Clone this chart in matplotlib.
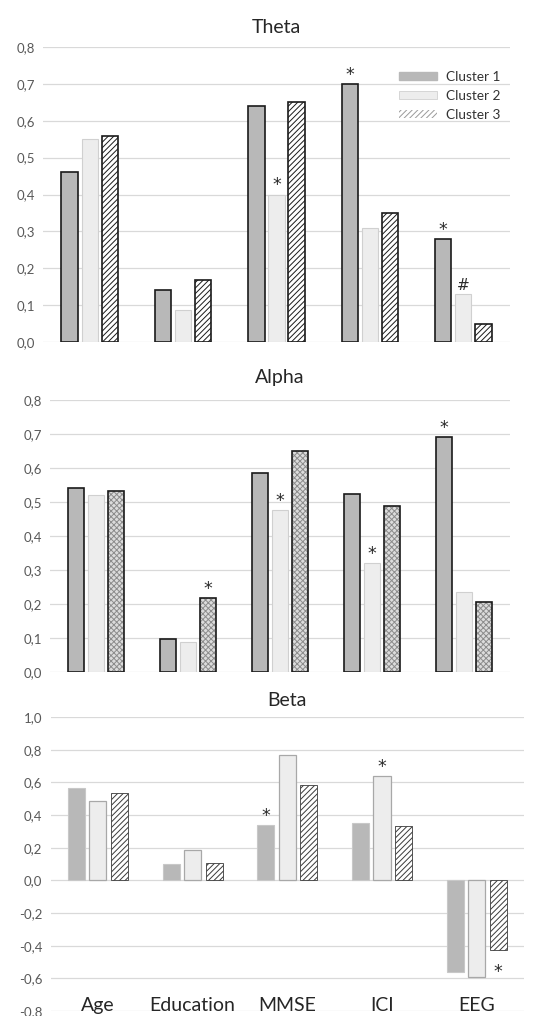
import matplotlib
matplotlib.use("Agg")
import matplotlib.pyplot as plt
from matplotlib.patches import Patch
from matplotlib.ticker import FuncFormatter, MultipleLocator

plt.rcParams['font.family'] = ['Lato', 'DejaVu Sans']
plt.rcParams['hatch.linewidth'] = 0.7

categories = ["Age", "Education", "MMSE", "ICI", "EEG"]
clusters = ["Cluster 1", "Cluster 2", "Cluster 3"]

theta_c1 = [0.46, 0.14, 0.64, 0.70, 0.28]
theta_c2 = [0.55, 0.086, 0.40, 0.31, 0.13]
theta_c3 = [0.56, 0.168, 0.65, 0.35, 0.05]

alpha_c1 = [0.54, 0.096, 0.585, 0.525, 0.69]
alpha_c2 = [0.522, 0.089, 0.476, 0.32, 0.234]
alpha_c3 = [0.532, 0.217, 0.649, 0.489, 0.205]

beta_c1 = [0.568, 0.098, 0.339, 0.354, -0.562]
beta_c2 = [0.485, 0.184, 0.767, 0.640, -0.589]
beta_c3 = [0.532, 0.104, 0.581, 0.333, -0.429]

# (category index, cluster index, symbol)
theta_marks = [(2, 1, "*"), (3, 0, "*"), (4, 0, "*"), (4, 1, "#")]
alpha_marks = [(1, 2, "*"), (2, 1, "*"), (3, 1, "*"), (4, 0, "*")]
beta_marks = [(2, 0, "*"), (3, 1, "*"), (4, 2, "*")]

W, H = 542, 1016
fig = plt.figure(figsize=(W / 100, H / 100), dpi=100)


def ax_px(left, top, right, bottom):
    return fig.add_axes([left / W, 1 - bottom / H, (right - left) / W, (bottom - top) / H])


fmt = FuncFormatter(lambda v, p: f"{v:.1f}".replace('.', ','))

C1_FILL = "#b8b8b8"
C2_FILL = "#ededed"
TICK_COLOR = "#595959"
GRID = "#d9d9d9"


def panel(ax, title, series, styles, ylim, step, marks, offset, width, tpad, outline=None):
    ax.set_xlim(-0.5, 4.5)
    ax.set_ylim(*ylim)
    ax.yaxis.set_major_locator(MultipleLocator(step))
    ax.yaxis.set_major_formatter(fmt)
    ax.grid(axis='y', color=GRID, linewidth=0.9)
    ax.set_axisbelow(True)
    for s in ax.spines.values():
        s.set_visible(False)
    ax.tick_params(axis='both', length=0, labelsize=9.5, labelcolor=TICK_COLOR, pad=6)
    ax.set_xticks([])
    x = range(len(categories))
    for k, (vals, st) in enumerate(zip(series, styles)):
        xs = [i + (k - 1) * offset for i in x]
        ax.bar(xs, vals, width=width, **st)
        if outline is not None and outline[k] is not None:
            ax.bar(xs, vals, width=width, fill=False, **outline[k])
    for ci, ki, sym in marks:
        v = series[ki][ci]
        xx = ci + (ki - 1) * offset
        dy = 3 if v >= 0 else -19
        ax.annotate(sym, (xx, v), xytext=(0, dy), textcoords='offset points',
                    ha='center', va='baseline', fontsize=12.5 if sym == "*" else 11,
                    color="#2a2a2a", family='DejaVu Sans')
    ax.set_title(title, fontsize=14, color="#262626", pad=tpad)


# Theta
ax1 = ax_px(43, 47, 510, 342)
st1 = [dict(color=C1_FILL, edgecolor="#1a1a1a", linewidth=1.2),
       dict(color=C2_FILL, edgecolor="#d0d0d0", linewidth=0.8),
       dict(color="white", edgecolor="#1a1a1a", linewidth=1.2, hatch="//////")]
panel(ax1, "Theta", [theta_c1, theta_c2, theta_c3], st1, (0, 0.8), 0.1,
      theta_marks, 0.215, 0.175, 10.0)
handles = [Patch(facecolor=C1_FILL, edgecolor=C1_FILL),
           Patch(facecolor=C2_FILL, edgecolor="#d0d0d0", linewidth=0.6),
           Patch(facecolor="white", edgecolor="#9a9a9a", hatch="//////", linewidth=0)]
ax1.legend(handles, clusters, loc='upper right', bbox_to_anchor=(1.005, 0.96),
           frameon=False, fontsize=9.8, handlelength=2.8, handleheight=0.55,
           labelspacing=0.5, handletextpad=0.6, labelcolor="#333333")

# Alpha
ax2 = ax_px(50, 400, 510, 672)
st2 = [dict(color=C1_FILL, edgecolor="#1a1a1a", linewidth=1.2),
       dict(color=C2_FILL, edgecolor="#d0d0d0", linewidth=0.8),
       dict(color="#dcdcdc", edgecolor="#8c8c8c", linewidth=0, hatch="xxxxxx")]
ol2 = [None, None, dict(edgecolor="#1a1a1a", linewidth=1.2)]
panel(ax2, "Alpha", [alpha_c1, alpha_c2, alpha_c3], st2, (0, 0.8), 0.1,
      alpha_marks, 0.217, 0.175, 12.5, outline=ol2)

# Beta
ax3 = ax_px(50.6, 717, 524, 1011)
st3 = [dict(color=C1_FILL, edgecolor="#c8c8c8", linewidth=0.8),
       dict(color=C2_FILL, edgecolor="#a8a8a8", linewidth=0.9),
       dict(color="white", edgecolor="#3a3a3a", linewidth=0.6, hatch="//////")]
panel(ax3, "Beta", [beta_c1, beta_c2, beta_c3], st3, (-0.8, 1.0), 0.2,
      beta_marks, 0.227, 0.18, 8.0)
for i, c in enumerate(categories):
    ax3.text(i, -0.8, c, ha='center', va='baseline', fontsize=14, color="#262626")

fig.savefig("out.png", dpi=100)
